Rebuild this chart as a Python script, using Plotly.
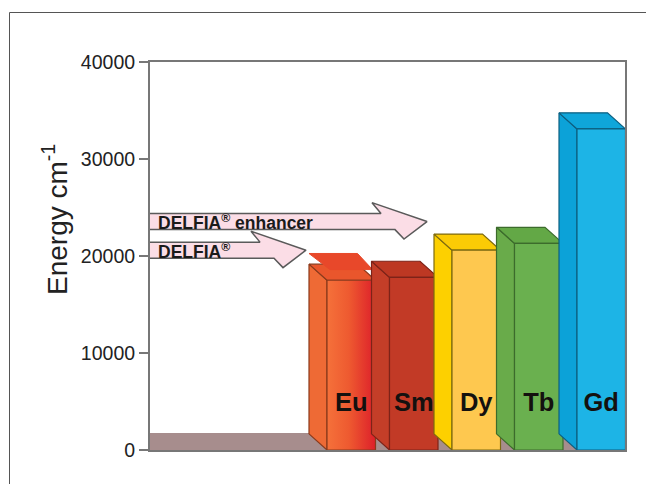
import plotly.graph_objects as go

# ---- data ----
elements = ["Eu", "Sm", "Dy", "Tb", "Gd"]
energy_levels = [17500, 17800, 20600, 21300, 33100]
eu_upper_level = 18600
ground_level = 1700
arrow_labels = ["DELFIA<sup>®</sup> enhancer", "DELFIA<sup>®</sup>"]
arrow_levels = [23550, 20600]
y_ticks = [0, 10000, 20000, 30000, 40000]

# ---- styling / layout constants ----
W, H = 646, 484
L, R, T, B = 150, 21, 62, 34
PW, PH = W - L - R, H - T - B
X_MAX = PW
FIRST_FRONT, STEP, FRONT_W, DX, DZ = 177, 62.5, 48.5, 18, 1660
front_cols = ["#f06a35", "#c23a26", "#fec84f", "#6ab04f", "#1db4e6"]
side_cols = ["#ee6a35", "#c43e28", "#fdd000", "#69ab4a", "#0ca2d8"]
top_cols = ["#e9562c", "#bd3823", "#fbcb05", "#63a846", "#0fa6da"]
edge_cols = ["#8a3a1c", "#7d2318", "#7d6a10", "#3c6b2c", "#0d5f80"]
AXIS = "#777777"
FONT = "Liberation Sans, Arial, sans-serif"

fig = go.Figure()


def poly(xs, ys, fill, line=None, width=1, **kw):
    fig.add_trace(go.Scatter(
        x=xs, y=ys, mode="lines", fill="toself", fillcolor=fill,
        line=dict(color=line or fill, width=width),
        hoverinfo="skip", showlegend=False, **kw))


# ground band behind the bars
poly([0, X_MAX, X_MAX, 0, 0], [0, 0, ground_level, ground_level, 0], "#a78d8d")


def arrow(level, tail_end, tip, label):
    half, head_top, head_bot = 830, 1950, 1800
    back = tail_end - 9
    xs = [0, tail_end, back, tip, tail_end + 23, tail_end + 14, 0]
    ys = [level + half, level + half, level + head_top,
          level, level - head_bot, level - half, level - half]
    poly(xs, ys, "#fbdde6", "#5a5a5a", 1.5)
    fig.add_trace(go.Scatter(
        x=[8], y=[level - 350], mode="text", text=[f"<b>{label}</b>"],
        textposition="middle right",
        textfont=dict(family=FONT, size=17.5, color="#1a1a1a"),
        hoverinfo="skip", showlegend=False))


arrow(arrow_levels[0], 231, 277, arrow_labels[0])
arrow(arrow_levels[1], 110, 156, arrow_labels[1])

for i, (name, level) in enumerate(zip(elements, energy_levels)):
    x0 = FIRST_FRONT + STEP * i
    x1 = x0 + FRONT_W
    edge = edge_cols[i]
    # side face
    poly([x0 - DX, x0, x0, x0 - DX, x0 - DX],
         [DZ, 0, level, level + DZ, DZ], side_cols[i], edge, 1.2)
    # top face
    poly([x0 - DX, x0, x1, x1 - DX, x0 - DX],
         [level + DZ, level, level, level + DZ, level + DZ], top_cols[i], edge, 1.2)
    # front face
    extra = {}
    if name == "Eu":
        extra["fillgradient"] = dict(
            type="horizontal",
            colorscale=[[0, "#f5713a"], [0.45, "#ee5a30"], [1, "#dd1f2a"]])
    poly([x0, x1, x1, x0, x0], [0, 0, level, level, 0], front_cols[i], edge, 1.2, **extra)
    if name == "Eu":
        # the second europium level floats above the block
        poly([x0 - DX, x1 - DX, x1 - 3, x0 + 3, x0 - DX],
             [eu_upper_level + DZ, eu_upper_level + DZ, eu_upper_level, eu_upper_level,
              eu_upper_level + DZ], "#e8482a")

label_x = [FIRST_FRONT + STEP * i + FRONT_W / 2 for i in range(len(elements))]
fig.add_trace(go.Scatter(
    x=label_x, y=[4700] * len(elements), mode="text",
    text=[f"<b>{e}</b>" for e in elements],
    textfont=dict(family=FONT, size=25.5, color="#14110f"),
    hoverinfo="skip", showlegend=False))


def px(v):
    return (v - L) / PW


def py(v):
    return 1 - (v - T) / PH


fig.update_layout(
    width=W, height=H, autosize=False,
    margin=dict(l=L, r=R, t=T, b=B),
    paper_bgcolor="white", plot_bgcolor="white",
    font=dict(family=FONT, color="#222222"),
    xaxis=dict(range=[0, X_MAX], showticklabels=False, ticks="", showgrid=False,
               zeroline=False, showline=True, mirror=True, linecolor=AXIS, linewidth=2),
    yaxis=dict(range=[0, 40000], tickvals=y_ticks, tickformat="d", ticks="outside",
               ticklen=9, tickwidth=1.5, tickcolor=AXIS, showgrid=False, zeroline=False,
               showline=True, mirror=True, linecolor=AXIS, linewidth=2,
               tickfont=dict(family=FONT, size=19.5, color="#222222")),
    annotations=[dict(
        text="Energy cm<sup>-1</sup>", textangle=-90, showarrow=False,
        xref="paper", yref="paper", x=px(55), y=py(220),
        xanchor="center", yanchor="middle",
        font=dict(family=FONT, size=28, color="#222222"))],
    shapes=[
        dict(type="line", xref="paper", yref="paper", x0=px(9.5), x1=px(646),
             y0=py(12.5), y1=py(12.5), line=dict(color="#555555", width=1)),
        dict(type="line", xref="paper", yref="paper", x0=px(9.5), x1=px(9.5),
             y0=py(12.5), y1=py(484), line=dict(color="#555555", width=1)),
    ],
)

fig.write_html("out.html", config={"displayModeBar": False},
               post_script="document.body.style.margin='0';document.documentElement.style.overflow='hidden';")
